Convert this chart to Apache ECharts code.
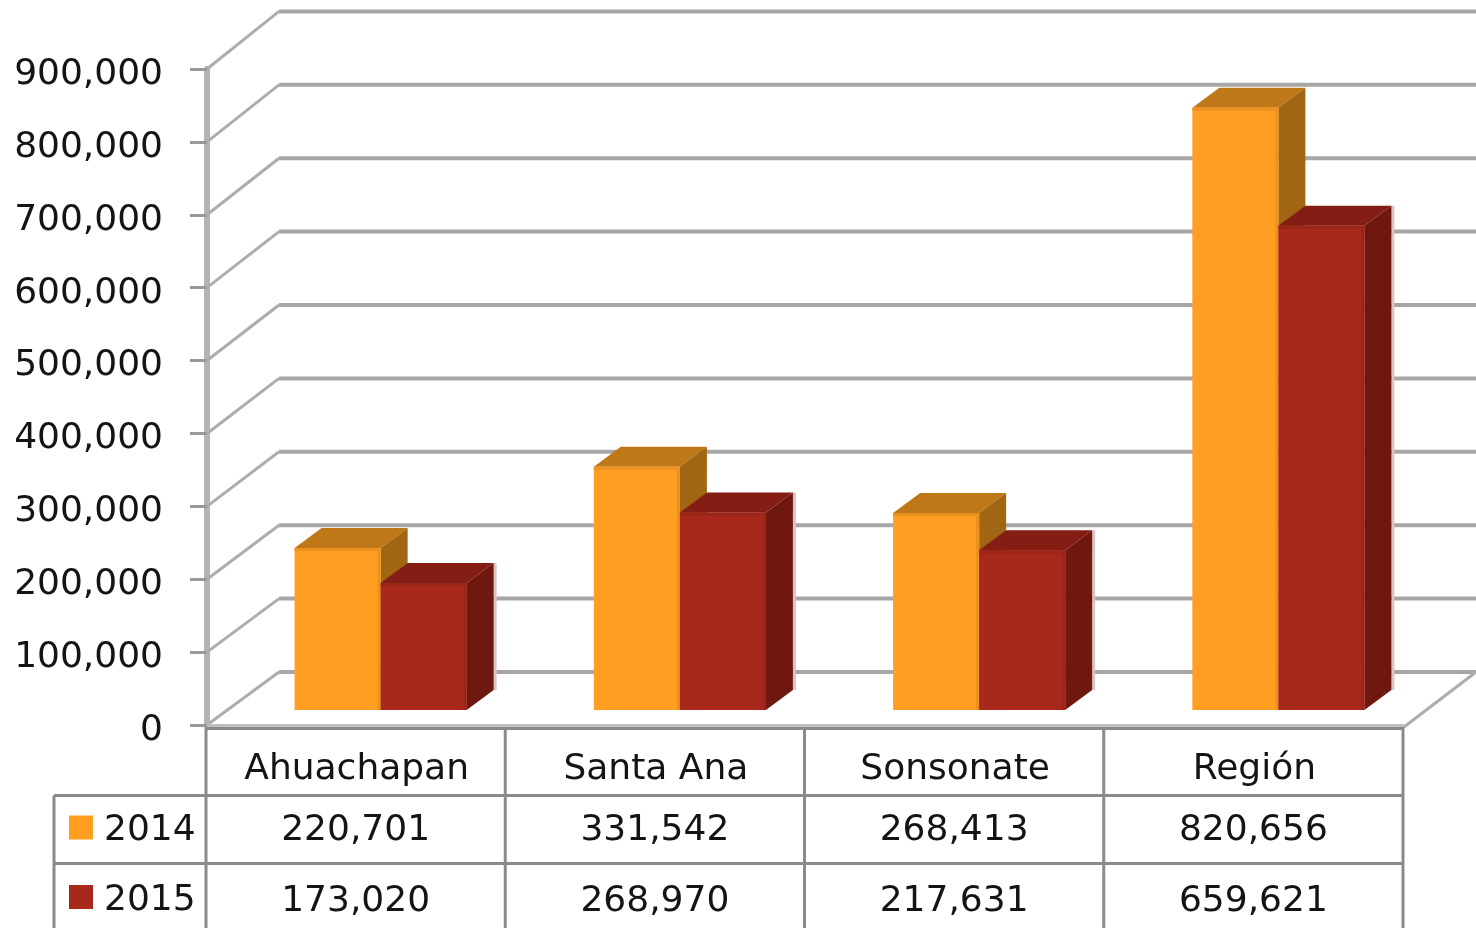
<!DOCTYPE html>
<html>
<head>
<meta charset="utf-8">
<style>
  html, body { margin: 0; padding: 0; background: #fff; }
  #main { width: 1476px; height: 928px; }
</style>
</head>
<body>
<div id="main"></div>
<script src="https://cdn.jsdelivr.net/npm/echarts@6/dist/echarts.min.js"></script>
<script>
var categories = ['Ahuachapan', 'Santa Ana', 'Sonsonate', 'Región']
var values2014 = [220701, 331542, 268413, 820656]
var values2015 = [173020, 268970, 217631, 659621]
var yTicks = [0, 100000, 200000, 300000, 400000, 500000, 600000, 700000, 800000, 900000]

var FONT = '36px "DejaVu Sans"'
var TEXT_COLOR = '#141414'
var LINE_COLOR = '#8a8a8a'
var WALL_DX = 72
var WALL_DY = -53
var BAR_DX = 27
var BAR_DY = -20
// things further back are drawn a little taller than the front axis
var DEPTH_SCALE = 1.007

function fmt (v) {
  return v.toLocaleString('en-US')
}

function poly (points, fill) {
  return { type: 'polygon', shape: { points: points }, style: { fill: fill } }
}

function box (x, y, w, h, fill) {
  return { type: 'rect', shape: { x: x, y: y, width: w, height: h }, style: { fill: fill } }
}

function seg (x1, y1, x2, y2) {
  return { type: 'line', shape: { x1: x1, y1: y1, x2: x2, y2: y2 }, style: { stroke: LINE_COLOR, lineWidth: 3 } }
}

function label (text, x, y) {
  return { type: 'text', style: { text: text, x: x, y: y, fill: TEXT_COLOR, font: FONT, align: 'center', verticalAlign: 'middle' } }
}

// back wall lines, one per tick
function renderWall (params, api) {
  var cs = params.coordSys
  var y = api.coord([0, api.value(0)])[1]
  var y0 = cs.y + cs.height
  var backX = cs.x + WALL_DX
  var backY = y0 + WALL_DY - (y0 - y) * DEPTH_SCALE
  var children = [
    { type: 'line', shape: { x1: cs.x, y1: y, x2: backX, y2: backY }, style: { stroke: '#adadad', lineWidth: 3 } },
    { type: 'line', shape: { x1: backX, y1: backY, x2: cs.x + cs.width + WALL_DX, y2: backY }, style: { stroke: '#a6a6a6', lineWidth: 4 } }
  ]
  if (api.value(0) === 0) {
    children.push({ type: 'line', shape: { x1: cs.x + cs.width, y1: y + 2, x2: cs.x + cs.width + WALL_DX, y2: backY }, style: { stroke: '#adadad', lineWidth: 3 } })
    children.push(box(cs.x, y - 1, cs.width, 3, '#c0c0c0'))
    children.push(box(cs.x, y + 2, cs.width, 3, LINE_COLOR))
  }
  return { type: 'group', children: children }
}

// 3d bar: front face, top and side, sitting a bit behind the front of the floor
function makeBar (side, front, top, right, edge) {
  return function (params, api) {
    var cat = api.value(0)
    var p0 = api.coord([cat, 0])
    var p1 = api.coord([cat, api.value(1)])
    var band = api.size([1, 0])[0]
    var w = band * 0.2875
    var mid = p0[0] + 24
    var x0 = side === 0 ? mid - w : mid
    var x1 = x0 + w
    var base = p0[1] - 15
    var yTop = base - (p0[1] - p1[1]) * DEPTH_SCALE
    return {
      type: 'group',
      children: [
        box(x1 + BAR_DX, yTop + BAR_DY, 3, base - yTop, side === 1 ? '#dcc4c2' : 'rgba(0,0,0,0)'),
        poly([[x0, yTop], [x1, yTop], [x1 + BAR_DX, yTop + BAR_DY], [x0 + BAR_DX, yTop + BAR_DY]], top),
        poly([[x1, yTop], [x1 + BAR_DX, yTop + BAR_DY], [x1 + BAR_DX, base + BAR_DY], [x1, base]], right),
        box(x0, yTop, w, base - yTop, front),
        box(x0, yTop, w, 3, edge),
        box(x1 - 3, yTop, 3, base - yTop, edge)
      ]
    }
  }
}

// data table under the plot, one column per category
function renderTable (params, api) {
  var cs = params.coordSys
  var i = api.value(0)
  var cx = api.coord([i, 0])[0]
  var band = api.size([1, 0])[0]
  var left = cx - band / 2
  var children = [
    seg(left - 1, 727, left - 1, 928),
    label(fmt(values2014[i]), cx - 1, 831),
    label(fmt(values2015[i]), cx - 1, 902)
  ]
  if (i === categories.length - 1) {
    children.push(seg(left + band - 1, 727, left + band - 1, 928))
  }
  if (i === 0) {
    children.push(seg(54, 795.5, cs.x + cs.width, 795.5))
    children.push(seg(54, 863.5, cs.x + cs.width, 863.5))
    children.push(seg(54, 795.5, 54, 928))
  }
  return { type: 'group', children: children }
}

var myChart = echarts.init(document.getElementById('main'))
myChart.setOption({
  animation: false,
  backgroundColor: '#fff',
  tooltip: { show: false },
  grid: { left: 207, top: 69, width: 1197, height: 656 },
  legend: {
    data: ['2014', '2015'],
    orient: 'vertical',
    left: 69,
    top: 813,
    height: 200,
    padding: 0,
    itemWidth: 24,
    itemHeight: 24,
    itemGap: 33.5,
    icon: 'rect',
    selectedMode: false,
    formatter: '{t|{name}}',
    textStyle: {
      rich: {
        t: { fontFamily: 'DejaVu Sans', fontSize: 36, color: TEXT_COLOR, padding: [7, 0, 0, 6] }
      }
    }
  },
  xAxis: {
    type: 'category',
    data: categories,
    axisLine: { show: false },
    axisTick: { show: false },
    axisLabel: { interval: 0, margin: 27, fontFamily: 'DejaVu Sans', fontSize: 36, color: TEXT_COLOR }
  },
  yAxis: {
    type: 'value',
    min: 0,
    max: 900000,
    interval: 100000,
    splitLine: { show: false },
    axisLine: { show: true, lineStyle: { color: '#b4b4b4', width: 6 } },
    axisTick: { show: true, length: 17, lineStyle: { color: '#999', width: 3 } },
    axisLabel: {
      margin: 44,
      formatter: function (v) { return '{t|' + fmt(v) + '}' },
      rich: {
        t: { fontFamily: 'DejaVu Sans', fontSize: 36, color: TEXT_COLOR, padding: [11, 0, 0, 0] }
      }
    }
  },
  series: [{
    name: 'wall',
    type: 'custom',
    silent: true,
    z: 1,
    renderItem: renderWall,
    encode: { y: 0 },
    data: yTicks.map(function (v) { return [v] })
  }, {
    name: '2014',
    type: 'custom',
    z: 2,
    itemStyle: { color: '#ff9e20' },
    renderItem: makeBar(0, '#ff9e20', '#be7818', '#a06614', '#ea9120'),
    encode: { x: 0, y: 1 },
    data: values2014.map(function (v, i) { return [i, v] })
  }, {
    name: '2015',
    type: 'custom',
    z: 3,
    itemStyle: { color: '#a8291c' },
    renderItem: makeBar(1, '#a8291c', '#841e14', '#6e1810', '#9a2619'),
    encode: { x: 0, y: 1 },
    data: values2015.map(function (v, i) { return [i, v] })
  }, {
    name: 'table',
    type: 'custom',
    silent: true,
    z: 4,
    renderItem: renderTable,
    encode: { x: 0 },
    data: categories.map(function (c, i) { return [i] })
  }]
})
</script>
</body>
</html>
